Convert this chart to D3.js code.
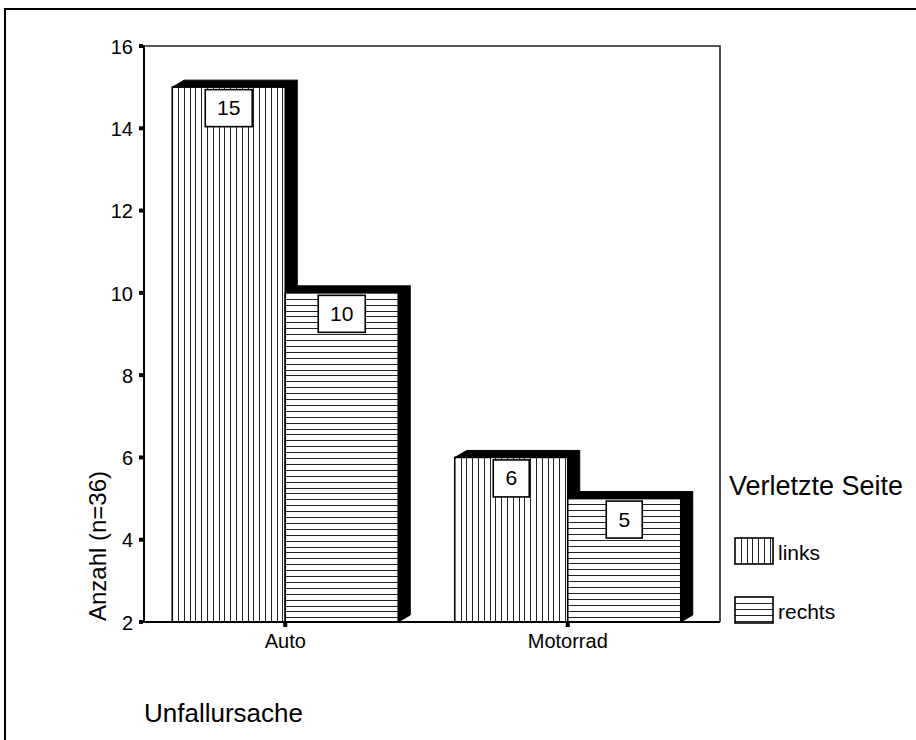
<!DOCTYPE html>
<html>
<head>
<meta charset="utf-8">
<script src="https://cdn.jsdelivr.net/npm/d3@7"></script>
<style>
  html, body { margin: 0; padding: 0; background: #fff; }
  svg { display: block; font-family: "Liberation Sans", Arial, sans-serif; }
</style>
</head>
<body>
<svg id="chart" width="916" height="740"></svg>
<script>
// Unfallursache vs. verletzte Seite (Anzahl, n=36)
const categories = ["Auto", "Motorrad"];
const series = ["links", "rechts"];
const linksValues = [15, 6];
const rechtsValues = [10, 5];
const yTicks = [2, 4, 6, 8, 10, 12, 14, 16];
const yTitle = "Anzahl (n=36)";
const xTitle = "Unfallursache";
const legendTitle = "Verletzte Seite";

const data = categories.map((c, i) => ({
  category: c,
  values: [
    { key: "links", value: linksValues[i] },
    { key: "rechts", value: rechtsValues[i] }
  ]
}));

const svg = d3.select("#chart");
const frame = { left: 144, top: 46, right: 720, bottom: 622 };
const depth = { dx: 12, dy: -7 };

const y = d3.scaleLinear().domain([2, 16]).range([frame.bottom, frame.top]);
const x0 = d3.scaleBand().domain(categories).range([frame.left, 709]).padding(0);
const x1 = d3.scaleBand().domain(series).range([0, x0.bandwidth()])
  .paddingInner(0).paddingOuter(0.25);

// outer border of the graphic
svg.append("rect")
  .attr("x", 5).attr("y", 9).attr("width", 930).attr("height", 760)
  .attr("fill", "none").attr("stroke", "#000").attr("stroke-width", 2);

// plot frame: top and right edges
svg.append("path")
  .attr("d", `M${frame.left},${frame.top}H${frame.right}V${frame.bottom}`)
  .attr("fill", "none").attr("stroke", "#222").attr("stroke-width", 1.6);

// hatch helpers
function hatch(g, key, bx, by, bw, bh, step) {
  const lines = g.append("g").attr("stroke", "#222").attr("stroke-width", 1);
  if (key === "links") {
    d3.range(bx + step, bx + bw - 1, step).forEach(px => {
      const xx = Math.round(px) + 0.5;
      lines.append("line").attr("x1", xx).attr("x2", xx).attr("y1", by).attr("y2", by + bh);
    });
  } else {
    d3.range(by + step, by + bh - 1, step).forEach(py => {
      const yy = Math.round(py) + 0.5;
      lines.append("line").attr("y1", yy).attr("y2", yy).attr("x1", bx).attr("x2", bx + bw);
    });
  }
}

const bars = svg.append("g");
data.forEach(d => {
  d.values.forEach(v => {
    const bx = x0(d.category) + x1(v.key);
    const bw = x1.bandwidth();
    const top = y(v.value);
    const base = y(2);
    const g = bars.append("g");
    // top face
    g.append("path")
      .attr("d", `M${bx},${top}L${bx + depth.dx},${top + depth.dy}L${bx + bw + depth.dx},${top + depth.dy}L${bx + bw},${top}Z`)
      .attr("fill", "#000").attr("stroke", "#000").attr("stroke-width", 1);
    // right side face
    g.append("path")
      .attr("d", `M${bx + bw},${top}L${bx + bw + depth.dx},${top + depth.dy}L${bx + bw + depth.dx},${base + depth.dy}L${bx + bw},${base}Z`)
      .attr("fill", "#000").attr("stroke", "#000").attr("stroke-width", 1);
    // front face
    g.append("rect")
      .attr("x", bx).attr("y", top).attr("width", bw).attr("height", base - top)
      .attr("fill", "#fff");
    hatch(g, v.key, bx, top, bw, base - top, v.key === "links" ? 5.8 : 5.9);
    g.append("rect")
      .attr("x", bx).attr("y", top).attr("width", bw).attr("height", base - top)
      .attr("fill", "none").attr("stroke", "#000").attr("stroke-width", 1.6);
    // value label box
    const cx = bx + bw / 2;
    const lbl = g.append("g");
    const txt = lbl.append("text")
      .attr("x", cx).attr("y", top + 28)
      .attr("text-anchor", "middle").attr("font-size", 21).attr("fill", "#000")
      .text(v.value);
    const tw = txt.node().getComputedTextLength();
    const boxW = Math.round(tw + 24);
    lbl.insert("rect", "text")
      .attr("x", cx - boxW / 2).attr("y", top + 2.5).attr("width", boxW).attr("height", 37)
      .attr("fill", "#fff").attr("stroke", "#000").attr("stroke-width", 1.6);
  });
});

// y axis
const yAxis = d3.axisLeft(y).tickValues(yTicks).tickSize(0).tickPadding(11);
const yg = svg.append("g").attr("transform", `translate(${frame.left},0)`).call(yAxis);
yg.select(".domain").remove();
yg.selectAll("text").attr("font-size", 20).attr("font-family", "'Liberation Sans', Arial, sans-serif")
  .attr("fill", "#000").attr("dy", "0.36em");
svg.append("g").selectAll("rect").data(yTicks).join("rect")
  .attr("x", 139).attr("y", t => y(t) - 2).attr("width", 4).attr("height", 4).attr("fill", "#000");
svg.append("line")
  .attr("x1", frame.left).attr("x2", frame.left).attr("y1", frame.top - 1).attr("y2", frame.bottom + 1)
  .attr("stroke", "#000").attr("stroke-width", 2);

// x axis
const xAxis = d3.axisBottom(x0).tickSize(0).tickPadding(12);
const xg = svg.append("g").attr("transform", `translate(0,${frame.bottom})`).call(xAxis);
xg.select(".domain").remove();
xg.selectAll("text").attr("font-size", 20).attr("font-family", "'Liberation Sans', Arial, sans-serif")
  .attr("fill", "#000").attr("dy", "0.71em");
svg.append("line")
  .attr("x1", frame.left - 1).attr("x2", frame.right).attr("y1", frame.bottom).attr("y2", frame.bottom)
  .attr("stroke", "#000").attr("stroke-width", 2);
svg.append("g").selectAll("rect").data(categories).join("rect")
  .attr("x", c => x0(c) + x0.bandwidth() / 2 - 2).attr("y", frame.bottom + 1)
  .attr("width", 4).attr("height", 4).attr("fill", "#000");

// axis titles
svg.append("text")
  .attr("transform", "translate(106,546) rotate(-90)")
  .attr("text-anchor", "middle").attr("font-size", 24).attr("fill", "#000")
  .text(yTitle);
svg.append("text")
  .attr("x", 144).attr("y", 722).attr("font-size", 26).attr("fill", "#000")
  .text(xTitle);

// legend
svg.append("text")
  .attr("x", 729).attr("y", 495).attr("font-size", 27).attr("fill", "#000")
  .text(legendTitle);
const legend = svg.append("g");
series.forEach((s, i) => {
  const ly = 538 + i * 59;
  const g = legend.append("g");
  g.append("rect").attr("x", 735).attr("y", ly).attr("width", 38).attr("height", 26).attr("fill", "#fff");
  hatch(g, s, 735, ly, 38, 26, s === "links" ? 5.8 : 5.9);
  g.append("rect").attr("x", 735).attr("y", ly).attr("width", 38).attr("height", 26)
    .attr("fill", "none").attr("stroke", "#000").attr("stroke-width", 1.6);
  g.append("text").attr("x", 778).attr("y", ly + 22).attr("font-size", 21).attr("fill", "#000").text(s);
});
</script>
</body>
</html>
